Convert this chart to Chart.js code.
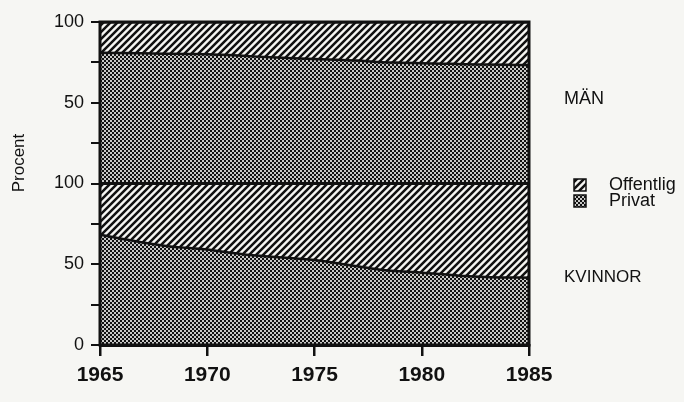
<!DOCTYPE html>
<html>
<head>
<meta charset="utf-8">
<script src="https://cdn.jsdelivr.net/npm/chart.js@4/dist/chart.umd.min.js"></script>
<style>
  html, body { margin: 0; padding: 0; background: #f6f6f3; }
  #wrap { width: 684px; height: 402px; }
</style>
</head>
<body>
<div id="wrap"><canvas id="grafico" width="684" height="402"></canvas></div>
<script>
// data (private share in percent, public = rest)
var years = [1965, 1966, 1967, 1968, 1969, 1970, 1971, 1972, 1973, 1974, 1975,
             1976, 1977, 1978, 1979, 1980, 1981, 1982, 1983, 1984, 1985];
var manPrivat = [81.0, 80.8, 80.6, 80.4, 80.2, 80.1, 79.5, 78.8, 78.1, 77.5, 77.1,
                 76.7, 76.1, 75.2, 74.8, 74.5, 74.2, 73.9, 73.7, 73.5, 73.3];
var kvinnorPrivat = [68.3, 65.8, 63.5, 61.5, 60.2, 59.2, 57.3, 55.7, 54.7, 53.7, 52.6,
                     50.8, 48.7, 46.8, 45.6, 44.8, 43.8, 42.7, 42.1, 41.8, 41.7];

// tick labels
var xTicks = [1965, 1970, 1975, 1980, 1985];
var yTickValues = [0, 50, 100, 150, 200];
var yTickLabels = ['0', '50', '100', '50', '100'];

// the MÄN panel sits on top of the KVINNOR panel
var panelOffset = 100;

var fontFamily = "'Liberation Sans', Arial, Helvetica, sans-serif";
var paper = '#f6f6f3';
var ink = '#111';

//monster (patterns)
function hatchPattern() {
    var s = 7;
    var c = document.createElement('canvas');
    c.width = s; c.height = s;
    var g = c.getContext('2d');
    g.fillStyle = paper;
    g.fillRect(0, 0, s, s);
    g.strokeStyle = ink;
    g.lineWidth = 2.5;
    g.beginPath();
    g.moveTo(0, s); g.lineTo(s, 0);
    g.moveTo(-1, 1); g.lineTo(1, -1);
    g.moveTo(s - 1, s + 1); g.lineTo(s + 1, s - 1);
    g.stroke();
    return g.createPattern(c, 'repeat');
}

function checkerPattern() {
    var c = document.createElement('canvas');
    c.width = 4; c.height = 4;
    var g = c.getContext('2d');
    g.fillStyle = '#c8c8c6';
    g.fillRect(0, 0, 4, 4);
    g.fillStyle = ink;
    g.fillRect(0, 0, 2, 2);
    g.fillRect(2, 2, 2, 2);
    return g.createPattern(c, 'repeat');
}

var hatch = hatchPattern();
var checker = checkerPattern();

function points(values, offset) {
    return years.map(function (y, i) { return { x: y, y: values[i] + offset }; });
}
function flat(level) {
    return years.map(function (y) { return { x: y, y: level }; });
}

var lineStyle = {
    pointRadius: 0,
    borderColor: ink,
    tension: 0.3,
    cubicInterpolationMode: 'monotone'
};

var data = {
    datasets: [
        Object.assign({ label: 'Privat', data: points(kvinnorPrivat, 0), backgroundColor: checker, fill: 'origin', borderWidth: 2.5 }, lineStyle),
        Object.assign({ label: 'Offentlig', data: flat(100), backgroundColor: hatch, fill: '-1', borderWidth: 3 }, lineStyle),
        Object.assign({ label: 'Privat', data: points(manPrivat, panelOffset), backgroundColor: checker, fill: '-1', borderWidth: 2.5 }, lineStyle),
        Object.assign({ label: 'Offentlig', data: flat(panelOffset + 100), backgroundColor: hatch, fill: '-1', borderWidth: 3 }, lineStyle)
    ]
};

// texts on the right side, legend and y title
var extras = {
    id: 'extras',
    afterDatasetsDraw: function (chart) {
        var ctx = chart.ctx;
        var a = chart.chartArea;
        ctx.save();
        ctx.strokeStyle = ink;
        ctx.lineWidth = 3;
        ctx.strokeRect(a.left, a.top, a.right - a.left, a.bottom - a.top);
        ctx.restore();
    },
    afterDraw: function (chart) {
        var ctx = chart.ctx;
        ctx.save();
        ctx.fillStyle = ink;
        ctx.textBaseline = 'middle';
        ctx.textAlign = 'left';
        ctx.font = '18px ' + fontFamily;
        ctx.fillText('MÄN', 564, 99);
        ctx.font = '17px ' + fontFamily;
        ctx.fillText('KVINNOR', 564, 277);

        // legend
        var items = [['Offentlig', hatch, 185], ['Privat', checker, 201]];
        items.forEach(function (it) {
            ctx.fillStyle = it[1];
            ctx.fillRect(574, it[2] - 6, 12, 12);
            ctx.strokeStyle = ink;
            ctx.lineWidth = 1.5;
            ctx.strokeRect(574, it[2] - 6, 12, 12);
            ctx.fillStyle = ink;
            ctx.font = '18px ' + fontFamily;
            ctx.fillText(it[0], 609, it[2]);
        });

        // y title
        ctx.translate(19, 163);
        ctx.rotate(-Math.PI / 2);
        ctx.textAlign = 'center';
        ctx.font = '17px ' + fontFamily;
        ctx.fillText('Procent', 0, 0);
        ctx.restore();
    }
};

var options = {
    responsive: false,
    animation: false,
    layout: { padding: { left: 0, right: 155, top: 22, bottom: 0 } },
    plugins: {
        legend: { display: false },
        tooltip: { enabled: false }
    },
    scales: {
        x: {
            type: 'linear',
            min: years[0],
            max: years[years.length - 1],
            afterBuildTicks: function (scale) {
                scale.ticks = xTicks.map(function (v) { return { value: v }; });
            },
            afterFit: function (scale) { scale.height = 57; },
            ticks: {
                color: ink,
                padding: 7,
                font: { family: fontFamily, size: 21, weight: 'bold' },
                callback: function (v) { return String(v); }
            },
            grid: { drawOnChartArea: false, drawTicks: true, tickLength: 11, color: ink, lineWidth: 2.5 },
            border: { display: true, color: ink, width: 3 }
        },
        y: {
            min: 0,
            max: 200,
            afterBuildTicks: function (scale) {
                var t = [];
                for (var v = 0; v <= 200; v += 25) t.push({ value: v });
                scale.ticks = t;
            },
            afterFit: function (scale) { scale.width = 100; },
            ticks: {
                color: ink,
                padding: 7,
                font: { family: fontFamily, size: 18 },
                callback: function (v) {
                    var i = yTickValues.indexOf(v);
                    return i >= 0 ? yTickLabels[i] : '';
                }
            },
            grid: { drawOnChartArea: false, drawTicks: true, tickLength: 9, color: ink, lineWidth: 2 },
            border: { display: true, color: ink, width: 3 }
        }
    }
};

var ctx = document.querySelector('#grafico').getContext('2d');
var areaChart = new Chart(ctx, {
    type: 'line',
    data: data,
    options: options,
    plugins: [extras]
});
</script>
</body>
</html>
